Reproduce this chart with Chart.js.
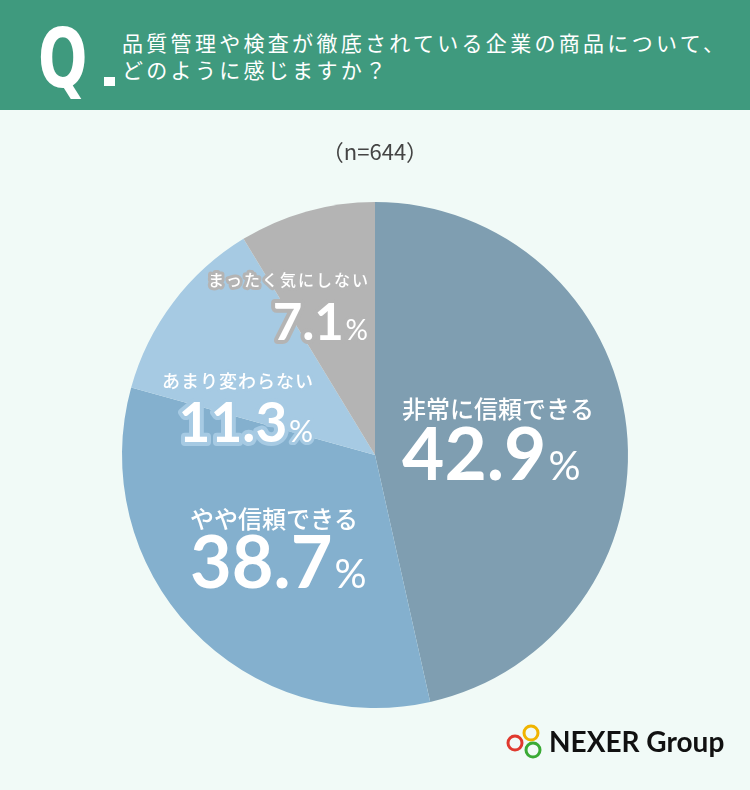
<!DOCTYPE html>
<html lang="ja">
<head>
<meta charset="utf-8">
<script src="https://cdn.jsdelivr.net/npm/chart.js@4.4.1/dist/chart.umd.min.js"></script>
<style>
    html, body { margin: 0; padding: 0; }
    body { width: 750px; height: 790px; background: #f1faf7; overflow: hidden; }
    #wrap { position: relative; width: 750px; height: 790px; }
    #header {
        position: absolute; left: 0; top: 0; width: 750px; height: 110px;
        background: #3f9a7e; color: #fff;
    }
    #q {
        position: absolute; left: 38px; top: 18px;
        font-family: "DejaVu Sans", sans-serif; font-weight: bold; font-size: 82px;
        line-height: 82px; transform: scaleX(0.71); transform-origin: left top;
    }
    #qdot { position: absolute; left: 104px; top: 77px; width: 11px; height: 9px; background: #fff; }
    #title {
        position: absolute; left: 122px; top: 29px; white-space: nowrap;
        font-family: "Noto Sans CJK JP", sans-serif; font-size: 21px; line-height: 27px;
        letter-spacing: 3.3px;
    }
    #sample {
        position: absolute; left: 0; top: 134px; width: 750px; text-align: center;
        font-family: "Noto Sans CJK JP", sans-serif; font-size: 22px; color: #444;
    }
    #chart { position: absolute; left: 0; top: 0; }
    #logo { position: absolute; left: 505px; top: 722px; width: 240px; height: 44px; }
    #logo span {
        position: absolute; left: 44px; top: 2px;
        font-family: "Lato", "DejaVu Sans", sans-serif; font-weight: bold; font-size: 28px;
        color: #111; white-space: nowrap;
    }
</style>
</head>
<body>
<div id="wrap">
    <canvas id="chart" width="750" height="790"></canvas>
    <div id="header">
        <div id="q">Q</div>
        <div id="qdot"></div>
        <div id="title">品質管理や検査が徹底されている企業の商品について、<br>どのように感じますか？</div>
    </div>
    <div id="sample">（n=644）</div>
    <div id="logo">
        <svg width="44" height="44" viewBox="0 0 44 44">
            <circle cx="26" cy="11" r="7" fill="none" stroke="#f0b400" stroke-width="3"/>
            <circle cx="10" cy="21" r="7" fill="none" stroke="#e0392e" stroke-width="3"/>
            <circle cx="28" cy="28" r="7" fill="none" stroke="#3aaa35" stroke-width="3"/>
        </svg>
        <span>NEXER Group</span>
    </div>
</div>
<script>
    // Survey answers, clockwise from 12 o'clock
    const categories = ['非常に信頼できる', 'やや信頼できる', 'あまり変わらない', 'まったく気にしない'];
    // percentages as printed on the chart
    const percentLabels = ['42.9', '38.7', '11.3', '7.1'];
    // slice sizes as actually drawn in the picture (the artwork is not to scale)
    const sliceShares = [46.5, 32.8, 12.0, 8.7];

    const sliceColors = ['#7f9eb1', '#84b0ce', '#a6cae3', '#b4b4b4'];

    // Label placement relative to the pie centre (fractions of radius)
    // [align, x edge, dy of caption centre, dy of number baseline, caption px, caption spacing, number px, outlined]
    const labelLayout = [
        ['left', 0.107, -0.182, 0.099, 24, 0, 73, false],
        ['left', -0.731, 0.253, 0.526, 24, 0, 72, false],
        ['right', -0.245, -0.292, -0.051, 18, 1, 55, true],
        ['right', -0.028, -0.692, -0.455, 16, 2, 51, true]
    ];

    const jpFont = '"Noto Sans CJK JP", sans-serif';
    const numFont = '"Lato", "Roboto", sans-serif';

    const pieLabels = {
        id: 'pieLabels',
        afterDatasetsDraw(chart) {
            const ctx = chart.ctx;
            const arcs = chart.getDatasetMeta(0).data;
            if (!arcs.length) return;
            const cx = arcs[0].x, cy = arcs[0].y, r = arcs[0].outerRadius;

            ctx.save();
            ctx.lineJoin = 'round';
            ctx.fillStyle = '#fff';
            labelLayout.forEach((lay, i) => {
                const [align, fx, fy1, fy2, capSize, capSpacing, numSize, outlined] = lay;
                const edge = cx + fx * r;
                const y1 = cy + fy1 * r;
                const y2 = cy + fy2 * r;
                ctx.strokeStyle = sliceColors[i];

                // caption, one glyph at a time so spacing can be set
                ctx.font = `500 ${capSize}px ${jpFont}`;
                ctx.textAlign = 'left';
                ctx.textBaseline = 'middle';
                const chars = Array.from(categories[i]);
                const widths = chars.map(c => ctx.measureText(c).width);
                const capW = widths.reduce((a, b) => a + b, 0) + capSpacing * (chars.length - 1);
                let x = align === 'left' ? edge : edge - capW;
                if (outlined) {
                    ctx.lineWidth = 6;
                    chars.forEach((c, k) => {
                        ctx.strokeText(c, x, y1);
                        x += widths[k] + capSpacing;
                    });
                }
                x = align === 'left' ? edge : edge - capW;
                chars.forEach((c, k) => {
                    ctx.fillText(c, x, y1);
                    x += widths[k] + capSpacing;
                });

                // number + %
                const pctSize = Math.round(numSize * 0.55);
                ctx.textBaseline = 'alphabetic';
                ctx.font = `bold ${numSize}px ${numFont}`;
                const wNum = ctx.measureText(percentLabels[i]).width;
                ctx.font = `${pctSize}px ${numFont}`;
                const wPct = ctx.measureText('%').width;
                const gap = numSize * 0.03;
                const total = wNum + gap + wPct;
                const left = align === 'left' ? edge : edge - total;

                if (outlined) {
                    ctx.font = `bold ${numSize}px ${numFont}`;
                    ctx.lineWidth = 8;
                    ctx.strokeText(percentLabels[i], left, y2);
                    ctx.font = `${pctSize}px ${numFont}`;
                    ctx.lineWidth = 6;
                    ctx.strokeText('%', left + wNum + gap, y2);
                }
                ctx.font = `bold ${numSize}px ${numFont}`;
                ctx.fillText(percentLabels[i], left, y2);
                ctx.font = `${pctSize}px ${numFont}`;
                ctx.fillText('%', left + wNum + gap, y2);
            });
            ctx.restore();
        }
    };

    new Chart(document.getElementById('chart'), {
        type: 'pie',
        data: {
            labels: categories,
            datasets: [{
                data: sliceShares,
                backgroundColor: sliceColors,
                borderWidth: 0
            }]
        },
        options: {
            responsive: false,
            animation: false,
            layout: { padding: { top: 202, bottom: 82, left: 122, right: 122 } },
            plugins: {
                legend: { display: false },
                tooltip: { enabled: false }
            }
        },
        plugins: [pieLabels]
    });
</script>
</body>
</html>
